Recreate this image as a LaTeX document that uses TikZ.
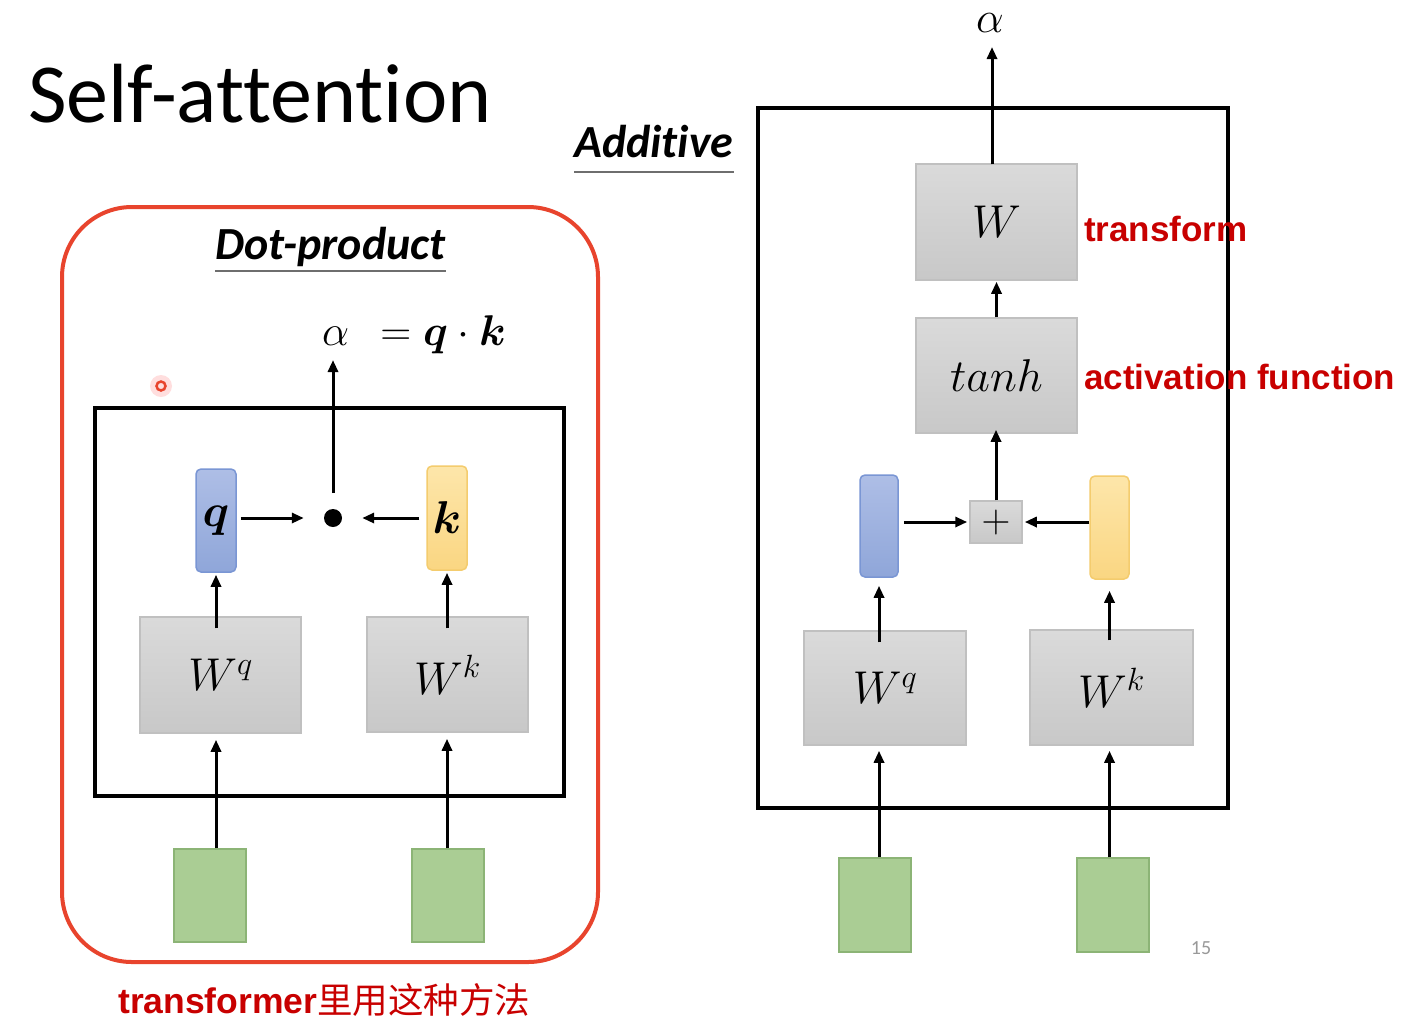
\RequirePackage{fix-cm}
\documentclass[tikz,border=0pt]{standalone}
\usepackage{amsmath}
\usepackage{fontspec}
\setmainfont{Carlito}[Ligatures=NoCommon]
\newfontfamily\annofont{Liberation Sans}
\newfontfamily\cjkfont{Noto Sans CJK SC}
\usetikzlibrary{arrows.meta}
\definecolor{framered}{RGB}{232,68,45}
\definecolor{annored}{RGB}{200,0,0}
\definecolor{grayedge}{RGB}{192,192,192}
\definecolor{graytop}{RGB}{218,218,218}
\definecolor{graybot}{RGB}{200,200,200}
\definecolor{bluetop}{RGB}{174,190,230}
\definecolor{bluebot}{RGB}{143,166,217}
\definecolor{blueedge}{RGB}{122,150,212}
\definecolor{yeltop}{RGB}{253,230,170}
\definecolor{yelbot}{RGB}{250,214,130}
\definecolor{yeledge}{RGB}{244,204,110}
\definecolor{greenfill}{RGB}{170,205,148}
\definecolor{greenedge}{RGB}{140,180,118}
\definecolor{ulgray}{RGB}{110,110,110}
\tikzset{
  arr/.style={line width=3pt, -{Triangle[length=12pt,width=10pt]}},
  blackframe/.style={draw=black, line width=4pt},
  wbox/.style={draw=grayedge, line width=1.5pt, top color=graytop, bottom color=graybot,
    inner sep=0pt, font=\fontsize{46}{46}\selectfont},
  qbox/.style={draw=blueedge, line width=1.5pt, rounded corners=5pt, top color=bluetop,
    bottom color=bluebot, inner sep=0pt, font=\fontsize{46}{46}\selectfont},
  kbox/.style={draw=yeledge, line width=1.5pt, rounded corners=5pt, top color=yeltop,
    bottom color=yelbot, inner sep=0pt, font=\fontsize{46}{46}\selectfont},
  gbox/.style={draw=greenedge, line width=1.5pt, fill=greenfill, inner sep=0pt,
    minimum width=72pt, minimum height=93pt},
  heading/.style={inner sep=0pt, anchor=base west, font=\fontsize{46}{46}\selectfont\bfseries\itshape},
  uline/.style={draw=ulgray, line width=2.5pt},
  anno/.style={inner sep=0pt, anchor=base west, text=annored, font=\fontsize{35}{35}\selectfont\annofont\bfseries},
  mathlbl/.style={inner sep=0pt, font=\fontsize{44}{44}\selectfont}
}
\begin{document}
\begin{tikzpicture}[x=1pt,y=-1pt]
\useasboundingbox (0,0) rectangle (1420,1034);
\fill[white] (0,0) rectangle (1420,1034);

% title
\node[inner sep=0pt, anchor=base west, font=\fontsize{84}{84}\selectfont] (title) at (28,122) {Self-attention};

% ---------------- left: dot-product ----------------
\draw[framered, line width=4pt, rounded corners=70pt] (62,207) rectangle (598,962);
\node[heading] (dp) at (215,259) {Dot-product};
\draw[uline] ([yshift=-12pt]dp.base west) -- ([yshift=-12pt]dp.base east);
\node[inner sep=0pt, anchor=base west, font=\fontsize{43}{43}\selectfont] (eq) at (322,345)
  {$\alpha\;\,=\boldsymbol{q}\cdot\boldsymbol{k}$};
\coordinate (atip1) at (333,360);

\fill[red!25, opacity=0.5] (161,386) circle (11);
\draw[framered, line width=2.5pt] (161,386) circle (4.5);

\draw[blackframe] (95,408) rectangle (564,796);

\node[qbox, minimum width=40pt, minimum height=103pt] (q1) at (216,520.5) {$\boldsymbol{q}$};
\node[kbox, minimum width=40pt, minimum height=104pt] (k1) at (447,518) {$\boldsymbol{k}$};
\node[circle, fill=black, minimum size=18pt, inner sep=0pt] (dot) at (333,518) {};
\node[wbox, minimum width=161pt, minimum height=116pt] (wq1) at (220.5,675) {$W^q$};
\node[wbox, minimum width=161pt, minimum height=115pt] (wk1) at (447.5,674.5) {$W^k$};
\node[gbox] (g1) at (210,895.5) {};
\node[gbox] (g2) at (448,895.5) {};

\draw[arr, shorten <=4pt, shorten >=20pt] (q1.east |- dot) -- (dot.west);
\draw[arr, shorten <=7pt, shorten >=20pt] (k1.west |- dot) -- (dot.east);
\draw[arr, shorten <=25pt] (dot.center) -- (atip1);
\draw[arr, shorten <=-12pt, shorten >=2pt] (wq1.north -| q1.south) -- (q1.south);
\draw[arr, shorten <=-12pt, shorten >=2pt] (wk1.north -| k1.south) -- (k1.south);
\draw[arr, shorten >=6pt] (g1.north -| q1.south) -- (wq1.south -| q1.south);
\draw[arr, shorten >=6pt] (g2.north -| k1.south) -- (wk1.south -| k1.south);

% ---------------- right: additive ----------------
\node[heading] (ad) at (574,157) {Additive};
\draw[uline] ([yshift=-15pt]ad.base west) -- ([yshift=-15pt]ad.base east);

\draw[blackframe] (758,108) rectangle (1228,808);

\node[mathlbl] (alpha2) at (990,23) {$\alpha$};
\coordinate (atip2) at (992,47);
\node[wbox, minimum width=161pt, minimum height=116pt] (W2) at (996.5,222) {$W$};
\node[wbox, minimum width=161pt, minimum height=115pt] (th) at (996.5,375.5) {$tanh$};
\node[wbox, minimum width=52pt, minimum height=42pt, font=\fontsize{40}{40}\selectfont] (plus) at (996,522) {$+$};
\node[qbox, minimum width=38pt, minimum height=102pt] (b2) at (879,526) {};
\node[kbox, minimum width=39pt, minimum height=103pt] (y2) at (1109.5,527.5) {};
\node[wbox, minimum width=162pt, minimum height=114pt] (wq2) at (885,688) {$W^q$};
\node[wbox, minimum width=163pt, minimum height=115pt] (wk2) at (1111.5,687.5) {$W^k$};
\node[gbox, minimum height=94pt] (g3) at (875,905) {};
\node[gbox, minimum height=94pt] (g4) at (1113,905) {};

\draw[arr, shorten <=-1pt] (W2.north -| atip2) -- (atip2);
\draw[arr, shorten >=1pt] (th.north -| W2.south) -- (W2.south);
\draw[arr, shorten >=-4pt] (plus.north) -- (th.south -| plus.north);
\draw[arr, shorten <=5pt, shorten >=2pt] (b2.east |- plus.west) -- (plus.west);
\draw[arr, shorten >=2pt] (y2.west |- plus.east) -- (plus.east);
\draw[arr, shorten <=-12pt, shorten >=8pt] (wq2.north -| b2.south) -- (b2.south);
\draw[arr, shorten <=-11pt, shorten >=11pt] (wk2.north -| y2.south) -- (y2.south);
\draw[arr, shorten >=5pt] (g3.north -| b2.south) -- (wq2.south -| b2.south);
\draw[arr, shorten >=5pt] (g4.north -| y2.south) -- (wk2.south -| y2.south);

\node[anno] (tf) at (1084,241) {transform};
\node[anno] (af) at (1084,389) {activation function};

\node[inner sep=0pt, text=black!40, font=\fontsize{20}{20}\selectfont] (pg) at (1201,948) {15};

% bottom note
\node[anno, font=\fontsize{35.5}{35.5}\selectfont\annofont\bfseries] (note) at (118,1013) {transformer{\cjkfont\mdseries 里用这种方法}};
\end{tikzpicture}
\end{document}
